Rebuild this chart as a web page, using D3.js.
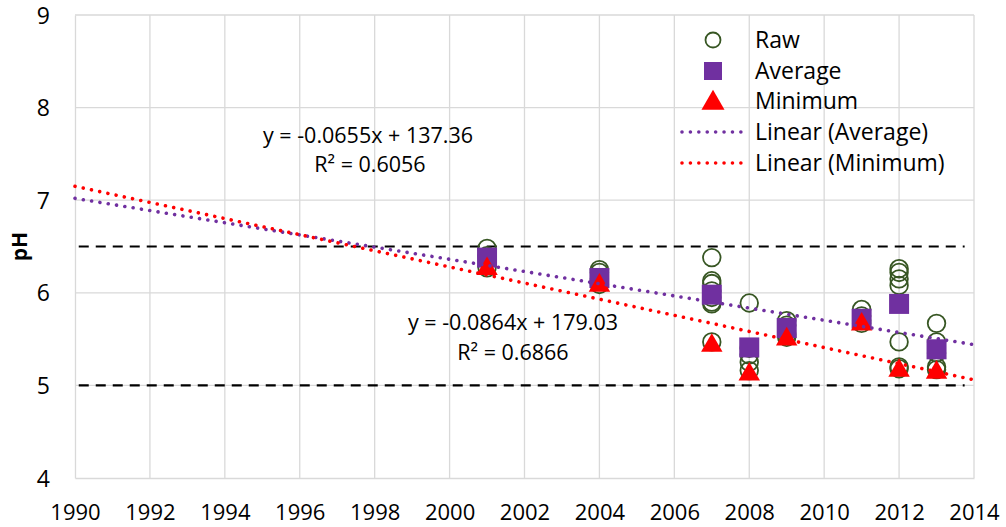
<!DOCTYPE html>
<html><head><meta charset="utf-8">
<script src="https://cdn.jsdelivr.net/npm/d3@7"></script>
<style>body{margin:0;background:#fff}svg{display:block}text{font-family:"Open Sans",sans-serif;fill:#000}</style>
</head><body><svg id="c" width="1006" height="527"></svg>
<script>
// ---- data ----
const years = [2001, 2004, 2007, 2008, 2009, 2011, 2012, 2013];
const rawValues = [
  [6.48, 6.40, 6.27],
  [6.25, 6.22, 6.15, 6.09],
  [6.38, 6.13, 6.10, 6.02, 5.95, 5.90, 5.88, 5.47],
  [5.89, 5.40, 5.33, 5.25, 5.16],
  [5.70, 5.65, 5.55, 5.52],
  [5.82, 5.75, 5.70, 5.67],
  [6.26, 6.22, 6.15, 6.08, 5.47, 5.20, 5.18],
  [5.67, 5.47, 5.35, 5.20, 5.17]
];
const averageValues = [6.38, 6.16, 5.98, 5.41, 5.62, 5.72, 5.88, 5.39];
const minimumValues = [6.27, 6.09, 5.44, 5.13, 5.51, 5.67, 5.17, 5.15];
const trendAvgYears = [1990, 2014];
const trendAvgValues = [7.02, 5.44];
const trendMinYears = [1990, 2014];
const trendMinValues = [7.15, 5.06];
const thresholdValues = [6.5, 5.0];
const thresholdYears = [1990.1, 2013.75];
const xTicks = [1990,1992,1994,1996,1998,2000,2002,2004,2006,2008,2010,2012,2014];
const yTicks = [4,5,6,7,8,9];
const legendLabels = ["Raw","Average","Minimum","Linear (Average)","Linear (Minimum)"];
const eqAvg = ["y = -0.0655x + 137.36", "R² = 0.6056"];
const eqMin = ["y = -0.0864x + 179.03", "R² = 0.6866"];

// ---- layout ----
const svg = d3.select("#c");
const L = 75, R = 974, T = 15, B = 478;
const x = d3.scaleLinear().domain([1990, 2014]).range([L, R]);
const y = d3.scaleLinear().domain([4, 9]).range([B, T]);
const green = "#375623", purple = "#7030A0", red = "#FF0000", grid = "#d9d9d9";

// gridlines
svg.append("g").selectAll("line").data(xTicks.slice(1)).join("line")
  .attr("x1", d => x(d)).attr("x2", d => x(d)).attr("y1", T).attr("y2", B)
  .attr("stroke", grid).attr("stroke-width", 1.3);
svg.append("g").selectAll("line").data(yTicks.slice(1)).join("line")
  .attr("x1", L).attr("x2", R).attr("y1", d => y(d)).attr("y2", d => y(d))
  .attr("stroke", grid).attr("stroke-width", 1.3);

// axes
const xAxis = d3.axisBottom(x).tickValues(xTicks).tickFormat(d3.format("d")).tickSize(0);
const gx = svg.append("g").attr("transform", `translate(0,${B})`).call(xAxis);
gx.select(".domain").attr("stroke", grid).attr("stroke-width", 1.3);
gx.selectAll("text").attr("font-size", 22).attr("font-family", "Open Sans")
  .attr("y", 41.5).attr("dy", 0);
const yAxis = d3.axisLeft(y).tickValues(yTicks).tickFormat(d3.format("d")).tickSize(0).tickPadding(25);
const gy = svg.append("g").attr("transform", `translate(${L},0)`).call(yAxis);
gy.select(".domain").attr("stroke", grid).attr("stroke-width", 1.3);
gy.selectAll("text").attr("font-size", 23).attr("font-family", "Open Sans").attr("dy", "0.35em");

svg.append("text").attr("transform", `translate(27,${(T+B)/2}) rotate(-90)`)
  .attr("text-anchor", "middle").attr("font-size", 21).attr("font-weight", "bold").text("pH");

// threshold dashed lines
svg.append("g").selectAll("line").data(thresholdValues).join("line")
  .attr("x1", x(thresholdYears[0])).attr("x2", x(thresholdYears[1]))
  .attr("y1", d => y(d)).attr("y2", d => y(d))
  .attr("stroke", "#000").attr("stroke-width", 2.2).attr("stroke-dasharray", "10 7");

// raw circles
const rawPts = [];
years.forEach((yr, i) => rawValues[i].forEach(v => rawPts.push([yr, v])));
svg.append("g").selectAll("circle").data(rawPts).join("circle")
  .attr("cx", d => x(d[0])).attr("cy", d => y(d[1])).attr("r", 8.8)
  .attr("fill", "none").attr("stroke", green).attr("stroke-width", 1.8);

// average squares
const sq = 20;
svg.append("g").selectAll("rect").data(years).join("rect")
  .attr("x", (d) => x(d) - sq/2).attr("y", (d, i) => y(averageValues[i]) - sq/2)
  .attr("width", sq).attr("height", sq).attr("fill", purple);

// minimum triangles
const tri = d3.symbol().type(d3.symbolTriangle).size(200);
svg.append("g").selectAll("path").data(years).join("path")
  .attr("d", tri)
  .attr("transform", (d, i) => `translate(${x(d)},${y(minimumValues[i]) + 1})`)
  .attr("fill", red);

// trendlines
const line = d3.line().x(d => x(d[0])).y(d => y(d[1]));
function dotted(sel, color) {
  return sel.attr("fill", "none").attr("stroke", color).attr("stroke-width", 3.6)
    .attr("stroke-linecap", "round").attr("stroke-dasharray", "0.01 8.4");
}
dotted(svg.append("path").attr("d", line(trendAvgYears.map((d, i) => [d, trendAvgValues[i]]))), purple);
dotted(svg.append("path").attr("d", line(trendMinYears.map((d, i) => [d, trendMinValues[i]]))), red);

// equations
function eq(lines, cx1, by1, cx2, by2) {
  svg.append("text").attr("x", cx1).attr("y", by1).attr("text-anchor", "middle").attr("font-size", 21.5).text(lines[0]);
  svg.append("text").attr("x", cx2).attr("y", by2).attr("text-anchor", "middle").attr("font-size", 21.5).text(lines[1]);
}
eq(eqAvg, 368, 143, 370, 172);
eq(eqMin, 513, 330, 513, 360);

// legend
const lg = svg.append("g");
const rowY = [40, 71, 101, 132, 163];
const lgX = 713, txtX = 755;
lg.append("circle").attr("cx", lgX).attr("cy", rowY[0]).attr("r", 7.5).attr("fill", "none").attr("stroke", green).attr("stroke-width", 1.8);
lg.append("rect").attr("x", lgX - 9).attr("y", rowY[1] - 9).attr("width", 18).attr("height", 18).attr("fill", purple);
lg.append("path").attr("d", d3.symbol().type(d3.symbolTriangle).size(230)).attr("transform", `translate(${lgX},${rowY[2] + 2})`).attr("fill", red);
dotted(lg.append("line").attr("x1", 682).attr("x2", 742).attr("y1", rowY[3]).attr("y2", rowY[3]), purple);
dotted(lg.append("line").attr("x1", 682).attr("x2", 742).attr("y1", rowY[4]).attr("y2", rowY[4]), red);
lg.selectAll("text.l").data(legendLabels).join("text").attr("class", "l")
  .attr("x", txtX).attr("y", (d, i) => rowY[i] + 8).attr("font-size", 23).text(d => d);
</script></body></html>
